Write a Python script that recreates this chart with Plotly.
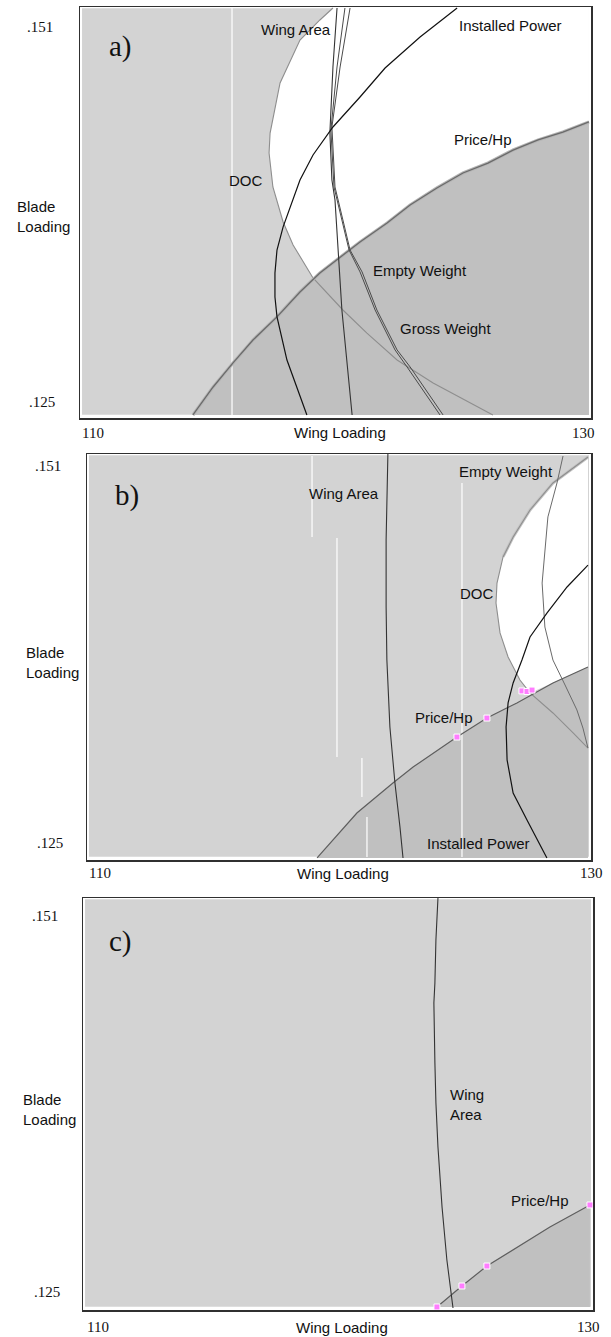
import plotly.graph_objects as go

# ---------------- data (wing loading x, blade loading y) ----------------
x_tick_vals = [110, 130]
x_tick_text = ["110", "130"]
y_tick_vals = [0.125, 0.151]
y_tick_text = [".125", ".151"]

# Panel a
wa_a_x = [120.06, 119.90, 119.78, 119.86, 119.98, 120.06, 120.25, 120.65]
wa_a_y = [0.15232, 0.14823, 0.14365, 0.14039, 0.13901, 0.13672, 0.13138, 0.12410]
ph_a_x = [114.42, 115.21, 115.99, 116.77, 117.71, 118.61, 119.39, 120.18, 120.96,
          122.02, 122.92, 123.97, 124.99, 125.97, 126.95, 127.93, 128.90, 129.92]
ph_a_y = [0.12410, 0.12604, 0.12771, 0.12930, 0.13090, 0.13263, 0.13395, 0.13506, 0.13610,
          0.13741, 0.13866, 0.13984, 0.14088, 0.14157, 0.14247, 0.14317, 0.14372, 0.14442]
doc_a_x = [119.90, 119.39, 118.61, 117.83, 117.44, 117.40, 117.55, 117.95, 118.34, 118.69,
           119.12, 120.29, 121.23, 122.41, 123.82, 126.16]
doc_a_y = [0.15232, 0.15149, 0.15010, 0.14712, 0.14365, 0.14227, 0.13991, 0.13748, 0.13589,
           0.13485, 0.13360, 0.13138, 0.12978, 0.12791, 0.12632, 0.12410]
ip_a_x = [124.76, 123.31, 121.94, 120.96, 119.90, 119.12, 118.61, 118.34, 117.95, 117.71,
          117.63, 117.63, 117.71, 118.10, 118.88]
ip_a_y = [0.15232, 0.15031, 0.14816, 0.14615, 0.14407, 0.14213, 0.14039, 0.13901, 0.13714,
          0.13554, 0.13395, 0.13228, 0.13090, 0.12791, 0.12410]
ew_a_x = [120.57, 120.18, 119.86, 119.98, 120.29, 120.57, 121.04, 121.62, 122.41, 122.92, 124.21]
ew_a_y = [0.15232, 0.14823, 0.14407, 0.13991, 0.13762, 0.13554, 0.13402, 0.13138, 0.12861, 0.12743, 0.12410]
gw_a_x = [120.37, 120.06, 119.82, 119.94, 120.25, 120.53, 120.96, 121.55, 122.33, 122.80, 124.09]
gw_a_y = [0.15232, 0.14823, 0.14386, 0.13991, 0.13762, 0.13554, 0.13402, 0.13138, 0.12861, 0.12743, 0.12410]

# Panel b
wa_b_x = [121.94, 121.90, 121.87, 121.87, 121.90, 122.02, 122.22, 122.42, 122.54]
wa_b_y = [0.15183, 0.14914, 0.14590, 0.14128, 0.13762, 0.13300, 0.12914, 0.12610, 0.12397]
ph_b_x = [119.13, 120.71, 122.14, 122.94, 124.68, 125.87, 127.06, 128.49, 129.88]
ph_b_y = [0.12397, 0.12707, 0.12914, 0.13024, 0.13231, 0.13362, 0.13466, 0.13604, 0.13714]
doc_b_x = [129.88, 129.17, 128.49, 127.58, 126.91, 126.51, 126.27, 126.23, 126.39, 126.71,
           127.18, 127.58, 128.49, 129.29, 129.88]
doc_b_y = [0.15162, 0.15073, 0.14983, 0.14797, 0.14611, 0.14473, 0.14293, 0.14155, 0.13949,
           0.13783, 0.13624, 0.13535, 0.13397, 0.13259, 0.13155]
ip_b_x = [129.88, 129.05, 128.25, 127.58, 127.26, 126.91, 126.71, 126.63, 126.67, 126.91, 127.46, 128.25]
ip_b_y = [0.14417, 0.14266, 0.14086, 0.13921, 0.13762, 0.13604, 0.13466, 0.13300, 0.13073,
          0.12845, 0.12659, 0.12397]
ew_b_x = [128.89, 128.65, 128.29, 128.17, 128.06, 128.17, 128.49, 128.97, 129.44, 129.68, 129.88]
ew_b_y = [0.15169, 0.14983, 0.14749, 0.14521, 0.14293, 0.13990, 0.13762, 0.13590, 0.13418,
          0.13293, 0.13155]
mk_b_x = [124.68, 125.87, 127.26, 127.46, 127.66]
mk_b_y = [0.13231, 0.13362, 0.13549, 0.13545, 0.13555]

# Panel c
wa_c_x = [123.92, 123.84, 123.80, 123.76, 123.80, 123.84, 123.92, 124.08, 124.27, 124.51]
wa_c_y = [0.15224, 0.14934, 0.14636, 0.14498, 0.14083, 0.13807, 0.13503, 0.13088, 0.12722, 0.12390]
ph_c_x = [123.88, 124.86, 125.84, 127.02, 128.31, 129.88]
ph_c_y = [0.12397, 0.12542, 0.12680, 0.12811, 0.12950, 0.13102]
mk_c_idx = [0, 1, 2, 5]

# rendering artefacts: white vertical streaks (x, y_top, y_bottom)
streaks_a = [(115.95, 0.15232, 0.12410)]
streaks_b = [(118.93, 0.15169, 0.14611), (119.92, 0.14604, 0.13093), (124.88, 0.14983, 0.12404),
             (120.91, 0.13086, 0.12817), (121.11, 0.12679, 0.12404)]

# labels
labels_a = [("Wing Area", 118.45, 0.15080), ("Installed Power", 126.83, 0.15114),
            ("Price/Hp", 125.77, 0.14317), ("DOC", 116.50, 0.14039),
            ("Empty Weight", 123.31, 0.13415), ("Gross Weight", 124.29, 0.13013)]
labels_b = [("Wing Area", 120.20, 0.14914), ("Empty Weight", 126.63, 0.15059),
            ("DOC", 125.48, 0.14224), ("Price/Hp", 124.17, 0.13369),
            ("Installed Power", 125.52, 0.12500)]
labels_c = [("Price/Hp", 127.92, 0.13136)]

# ---------------- figure ----------------
LIGHT = "#d3d3d3"
DARK = "#c0c0c0"
SANS = "Liberation Sans, Arial, sans-serif"
SERIF = "Liberation Serif, Times New Roman, serif"

fig = go.Figure()


def line(xs, ys, k, color, width):
    fig.add_trace(go.Scatter(x=xs, y=ys, xaxis="x" + k, yaxis="y" + k, mode="lines",
                             line=dict(color=color, width=width), hoverinfo="skip",
                             showlegend=False))


def poly(xs, ys, k, color):
    fig.add_trace(go.Scatter(x=xs, y=ys, xaxis="x" + k, yaxis="y" + k, mode="lines",
                             fill="toself", fillcolor=color, line=dict(width=0),
                             hoverinfo="skip", showlegend=False))


def markers(xs, ys, k):
    fig.add_trace(go.Scatter(x=xs, y=ys, xaxis="x" + k, yaxis="y" + k, mode="markers",
                             marker=dict(symbol="square", size=6, color="#ff7cff",
                                         line=dict(color="#ffffff", width=1)),
                             hoverinfo="skip", showlegend=False))


def streaks(lst, k):
    for (sx, y0, y1) in lst:
        line([sx, sx], [y0, y1], k, "#ffffff", 1.2)


# panel a
k = ""
poly(doc_a_x[:11] + ph_a_x[6:] + [ph_a_x[-1]], doc_a_y[:11] + ph_a_y[6:] + [doc_a_y[0]], k, "#ffffff")
poly(ph_a_x + [ph_a_x[-1]], ph_a_y + [ph_a_y[0]], k, DARK)
streaks(streaks_a, k)
line(doc_a_x, doc_a_y, k, "#8e8e8e", 1.1)
line(ph_a_x, ph_a_y, k, "#b4b4b4", 3.2)
line(ph_a_x, ph_a_y, k, "#6a6a6a", 1.3)
line(wa_a_x, wa_a_y, k, "#333333", 1.1)
line(ew_a_x, ew_a_y, k, "#4a4a4a", 1.0)
line(gw_a_x, gw_a_y, k, "#4a4a4a", 1.0)
line(ip_a_x, ip_a_y, k, "#111111", 1.2)

# panel b
k = "2"
poly(doc_b_x[:12] + ph_b_x[7:], doc_b_y[:12] + ph_b_y[7:], k, "#ffffff")
poly(ph_b_x + [ph_b_x[-1]], ph_b_y + [ph_b_y[0]], k, DARK)
streaks(streaks_b, k)
line(doc_b_x[:6], doc_b_y[:6], k, "#c4c4c4", 3.0)
line(doc_b_x, doc_b_y, k, "#8e8e8e", 1.1)
line(ew_b_x, ew_b_y, k, "#6a6a6a", 1.0)
line(ph_b_x, ph_b_y, k, "#5e5e5e", 1.2)
line(wa_b_x, wa_b_y, k, "#333333", 1.1)
line(ip_b_x, ip_b_y, k, "#111111", 1.2)
markers(mk_b_x, mk_b_y, k)

# panel c
k = "3"
poly(ph_c_x + [ph_c_x[-1]], ph_c_y + [ph_c_y[0]], k, DARK)
line(ph_c_x, ph_c_y, k, "#5e5e5e", 1.2)
line(wa_c_x, wa_c_y, k, "#333333", 1.1)
markers([ph_c_x[i] for i in mk_c_idx], [ph_c_y[i] for i in mk_c_idx], k)

# ---------------- layout ----------------
panels = [
    ("", [80 / 611, 591 / 611], [1 - 418 / 1337, 1 - 7 / 1337], [0.12389, 0.15239], "a)",
     (111.57, 0.14962), labels_a, (-23, -25), -15, 0, 6, 15, 0.13783),
    ("2", [87 / 611, 591 / 611], [1 - 860 / 1337, 1 - 454 / 1337], [0.12383, 0.15183], "b)",
     (111.59, 0.14900), labels_b, (-22, -24), -13, 0, 14, 24, 0.13748),
    ("3", [83 / 611, 593 / 611], [1 - 1310 / 1337, 1 - 898 / 1337], [0.12376, 0.15224], "c)",
     (111.49, 0.14920), labels_c, (-21, -23), -17, 2, 9, 21, 0.13765),
]

annotations = []
shapes = []
axis_common = dict(showgrid=False, zeroline=False, showticklabels=False, ticks="",
                   showline=True, mirror=True, linecolor="#303030", linewidth=1.5, fixedrange=True)

for (sfx, xd, yd, yr, letter, lpos, labels, ysh, xsh_y, sh110, sh130, bl_left, bl_y) in panels:
    xa = "xaxis" + sfx
    ya = "yaxis" + sfx
    xr = "x" + sfx
    yrf = "y" + sfx
    fig.update_layout({
        xa: dict(domain=xd, range=[110, 130], anchor=yrf, **axis_common),
        ya: dict(domain=yd, range=yr, anchor=xr, **axis_common),
    })
    shapes.append(dict(type="rect", xref=xr + " domain", yref=yrf + " domain",
                       x0=0.004, x1=0.996, y0=0.008, y1=0.997, fillcolor=LIGHT,
                       line=dict(width=0), layer="below"))
    annotations.append(dict(text=letter, x=lpos[0], y=lpos[1], xref=xr, yref=yrf,
                            showarrow=False, font=dict(family=SERIF, size=29, color="#111")))
    for (t, lx, ly) in labels:
        annotations.append(dict(text=t, x=lx, y=ly, xref=xr, yref=yrf, showarrow=False,
                                font=dict(family=SANS, size=15, color="#111")))
    for v, t, s in zip(y_tick_vals, y_tick_text, ysh):
        annotations.append(dict(text=t, x=0, y=v, xref=xr + " domain", yref=yrf,
                                xanchor="right", xshift=s, showarrow=False,
                                font=dict(family=SERIF, size=15, color="#111")))
    annotations.append(dict(text=x_tick_text[0], x=x_tick_vals[0], y=0, xref=xr,
                            yref=yrf + " domain", xanchor="left", yanchor="middle",
                            xshift=sh110, yshift=xsh_y, showarrow=False,
                            font=dict(family=SERIF, size=15, color="#111")))
    annotations.append(dict(text=x_tick_text[1], x=x_tick_vals[1], y=0, xref=xr,
                            yref=yrf + " domain", xanchor="right", yanchor="middle",
                            xshift=sh130, yshift=xsh_y, showarrow=False,
                            font=dict(family=SERIF, size=15, color="#111")))
    annotations.append(dict(text="Wing Loading", x=0.5, y=0, xref=xr + " domain",
                            yref=yrf + " domain", xanchor="center", yanchor="middle",
                            xshift=4, yshift=xsh_y, showarrow=False,
                            font=dict(family=SANS, size=15, color="#111")))
    annotations.append(dict(text="Blade<br>Loading", x=bl_left / 611, y=bl_y, xref="paper",
                            yref=yrf, xanchor="left", yanchor="middle", align="left",
                            showarrow=False, font=dict(family=SANS, size=15, color="#111")))

annotations.append(dict(text="Wing<br>Area", x=124.31, y=0.13800, xref="x3", yref="y3",
                        xanchor="left", yanchor="middle", align="left", showarrow=False,
                        font=dict(family=SANS, size=15, color="#111")))

fig.update_layout(width=611, height=1337, margin=dict(l=0, r=0, t=0, b=0),
                  paper_bgcolor="#ffffff", plot_bgcolor="#ffffff",
                  annotations=annotations, shapes=shapes, showlegend=False)

fig.write_html("out.html",
               config={"displayModeBar": False, "staticPlot": True},
               post_script="document.body.style.margin='0px';"
                           "document.body.style.padding='0px';"
                           "document.body.style.overflow='hidden';")
